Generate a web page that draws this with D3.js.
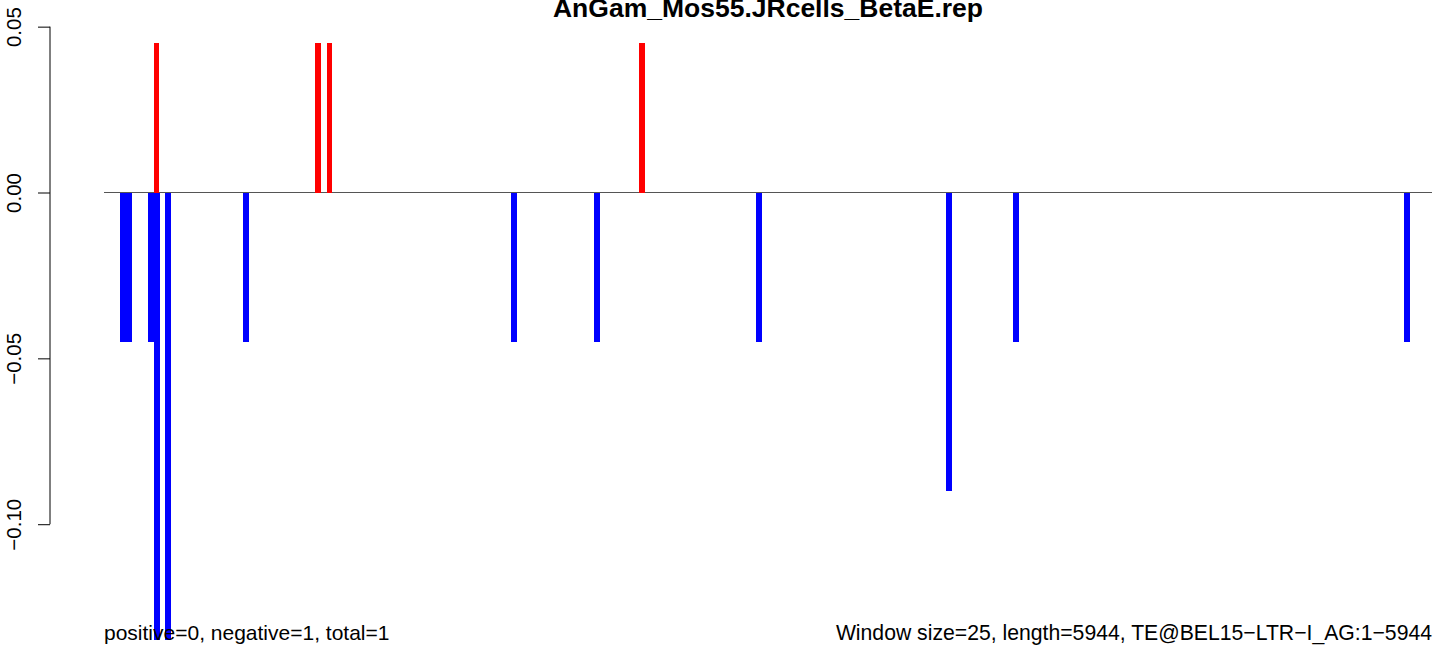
<!DOCTYPE html>
<html>
<head>
<meta charset="utf-8">
<script src="https://cdn.jsdelivr.net/npm/d3@7"></script>
<style>
html,body{margin:0;padding:0;background:#fff;}
svg{display:block;}
text{font-family:"Liberation Sans",Arial,Helvetica,sans-serif;}
</style>
</head>
<body>
<script>
// ---- data ----
const title = "AnGam_Mos55.JRcells_BetaE.rep";
const seqLength = 5944;
const windowSize = 25;
const posStarts = [225, 950, 1000, 2400];
const posValues = [0.045, 0.045, 0.045, 0.045];
const negStarts = [75, 100, 200, 225, 275, 625, 1825, 2200, 2925, 3775, 4075, 5825];
const negValues = [-0.045, -0.045, -0.045, -0.135, -0.135, -0.045, -0.045, -0.045, -0.045, -0.09, -0.045, -0.045];
const yTicks = [0.05, 0.00, -0.05, -0.10];
const yTickLabels = ["0.05", "0.00", "\u22120.05", "\u22120.10"];
const leftNote = "positive=0, negative=1, total=1";
const rightNote = "Window size=25, length=5944, TE@BEL15\u2212LTR\u2212I_AG:1\u22125944";

// ---- layout ----
const W = 1444, H = 652;
const svg = d3.select("body").append("svg").attr("width", W).attr("height", H);

const x = d3.scaleLinear().domain([0, 5950]).range([103.4, 1431.6]);
const y = d3.scaleLinear().domain([-0.135, 0.05]).range([640.3, 26.65]);

const plotLeft = 104, plotRight = 1432;

// title
svg.append("text")
  .attr("x", (plotLeft + plotRight) / 2).attr("y", 17)
  .attr("text-anchor", "middle")
  .attr("font-size", 26.5).attr("font-weight", "bold")
  .text(title);

// zero line
svg.append("line")
  .attr("x1", plotLeft).attr("x2", plotRight)
  .attr("y1", y(0)).attr("y2", y(0))
  .attr("stroke", "#555").attr("stroke-width", 1);

// positive bars
const pos = posStarts.map((s, i) => ({s, v: posValues[i]}));
svg.append("g").attr("shape-rendering", "crispEdges")
  .selectAll("rect").data(pos).join("rect")
  .attr("x", d => x(d.s)).attr("width", d => x(d.s + windowSize) - x(d.s))
  .attr("y", d => y(d.v)).attr("height", d => y(0) - y(d.v))
  .attr("fill", "#ff0000");

// negative bars
const neg = negStarts.map((s, i) => ({s, v: negValues[i]}));
svg.append("g").attr("shape-rendering", "crispEdges")
  .selectAll("rect").data(neg).join("rect")
  .attr("x", d => x(d.s)).attr("width", d => x(d.s + windowSize) - x(d.s) + 0.3)
  .attr("y", y(0)).attr("height", d => y(d.v) - y(0))
  .attr("fill", "#0000ff");

// y axis
const axisG = svg.append("g").attr("transform", "translate(50,0)");
const axis = d3.axisLeft(y).tickValues(yTicks).tickSize(12).tickFormat((d, i) => yTickLabels[i]);
axisG.call(axis);
axisG.select(".domain").attr("d", `M0,${y(0.05)}V${y(-0.10)}`).attr("stroke", "#000").attr("stroke-width", 1);
axisG.selectAll(".tick line").attr("stroke", "#000").attr("stroke-width", 1);
axisG.selectAll(".tick text")
  .attr("font-size", 20.5).attr("fill", "#000")
  .attr("font-family", "Liberation Sans, Arial, sans-serif")
  .attr("text-anchor", "middle")
  .attr("x", null).attr("dy", null)
  .attr("transform", "translate(-29,0) rotate(-90)");

// bottom notes
svg.append("text").attr("x", plotLeft).attr("y", 640)
  .attr("font-size", 21).attr("fill", "#000").text(leftNote);
svg.append("text").attr("x", plotRight).attr("y", 640)
  .attr("text-anchor", "end")
  .attr("font-size", 21.2).attr("fill", "#000").text(rightNote);
</script>
</body>
</html>
